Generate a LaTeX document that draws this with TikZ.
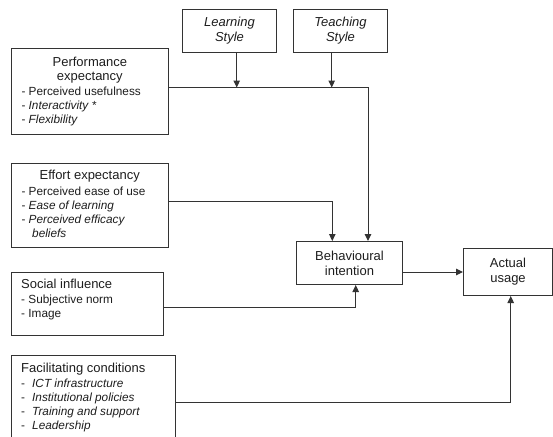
\documentclass[tikz,border=0pt]{standalone}
\usepackage{fontspec}
\setmainfont{Liberation Sans}
\usetikzlibrary{arrows.meta}
\definecolor{lncol}{HTML}{333333}
\definecolor{txcol}{HTML}{1E1E1E}
\newcommand{\ttlf}{\fontsize{13}{14}\selectfont}
\newcommand{\itmf}{\fontsize{11.8}{13.8}\selectfont}
\begin{document}
\begin{tikzpicture}[x=1pt,y=-1pt,
  box/.style={draw=lncol, line width=1pt, fill=white, inner sep=0pt, text=txcol, anchor=north west},
  sbox/.style={draw=lncol, line width=1pt, inner sep=0pt, text=txcol, align=center, anchor=north west, font=\fontsize{13}{15}\selectfont},
  arr/.style={draw=lncol, line width=1pt, -{Triangle[length=7pt,width=6.5pt]}}]
\useasboundingbox (0,0) rectangle (553,436);
\clip (0,0) rectangle (553,436);
\fill[white] (0,0) rectangle (553,436);

% top boxes
\node[sbox, minimum width=94pt, minimum height=42.5pt, font=\fontsize{13}{15}\selectfont\itshape] (LS) at (182,9.3) {Learning\\Style};
\node[sbox, minimum width=94pt, minimum height=42.5pt, font=\fontsize{13}{15}\selectfont\itshape] (TS) at (293,9.3) {Teaching\\Style};

% left boxes
\node[box] (PE) at (10.7,48) {\parbox[t][86pt][t]{157.3pt}{\ttlf\centering\rule{0pt}{17.5pt}Performance\\expectancy\par\vspace{2pt}\itmf\raggedright\leftskip=10.3pt - Perceived usefulness\\- \textit{Interactivity *}\\- \textit{Flexibility}\par}};

\node[box] (EE) at (10.7,163.3) {\parbox[t][84pt][t]{157pt}{\ttlf\centering\rule{0pt}{16pt}Effort expectancy\par\vspace{2pt}\itmf\raggedright\leftskip=10.3pt - Perceived ease of use\\- \textit{Ease of learning}\\- \textit{Perceived efficacy}\\\hspace*{10.7pt}\textit{beliefs}\par}};

\node[box] (SI) at (11,271.7) {\parbox[t][63.3pt][t]{152.3pt}{\raggedright\leftskip=9.7pt\ttlf\rule{0pt}{16.6pt}Social influence\par\vspace{1pt}\itmf - Subjective norm\\- Image\par}};

\node[box] (FC) at (11,355) {\parbox[t][95pt][t]{164pt}{\raggedright\leftskip=9.7pt\ttlf\rule{0pt}{17.3pt}Facilitating conditions\par\fontsize{11.8}{14.2}\selectfont\makebox[11pt][l]{-}\textit{ICT infrastructure}\\\makebox[11pt][l]{-}\textit{Institutional policies}\\\makebox[11pt][l]{-}\textit{Training and support}\\\makebox[11pt][l]{-}\textit{Leadership}\par}};

% right boxes
\node[sbox, minimum width=106pt, minimum height=43pt] (BI) at (296,241) {Behavioural\\intention};
\node[sbox, minimum width=89pt, minimum height=47pt] (AU) at (463,248) {Actual\\usage};

% connector points
\coordinate (j1) at (368,87.5);
\coordinate (j2) at (332.3,201.5);
\coordinate (j3) at (355.7,307.7);
\coordinate (j4) at (510.7,402.3);
\coordinate (a1) at (236.7,87.5);
\coordinate (a2) at (331.7,87.5);

\draw[arr] (PE.east |- j1) -| (BI.north -| j1);
\draw[arr] (LS.south -| a1) -- (a1);
\draw[arr] (TS.south -| a2) -- (a2);
\draw[arr] (EE.east |- j2) -| (BI.north -| j2);
\draw[arr] (SI.east |- j3) -| (BI.south -| j3);
\draw[arr] (FC.east |- j4) -| (AU.south -| j4);
\draw[arr] (BI.east |- AU.west) -- (AU.west);
\end{tikzpicture}
\end{document}
